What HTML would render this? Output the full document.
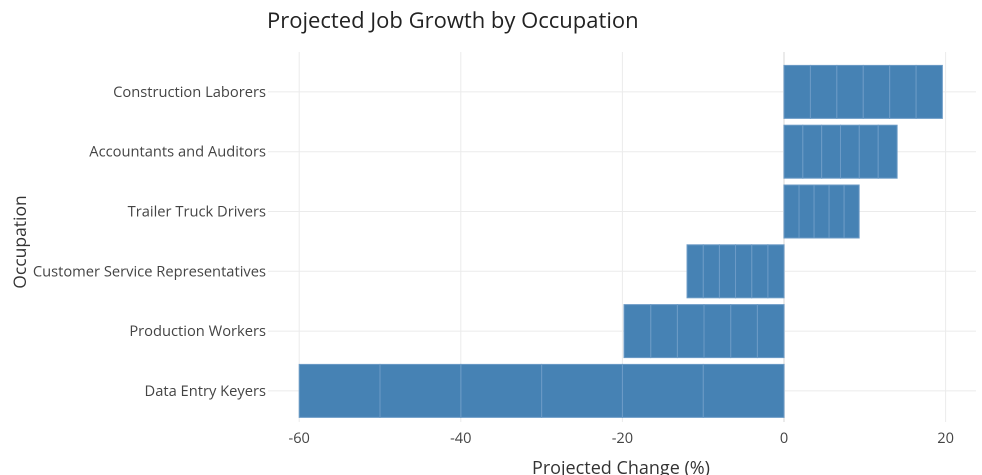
<!DOCTYPE html>
<html><head><meta charset="utf-8"><style>
html,body{margin:0;padding:0;background:#fff;}
svg{display:block;font-family:"Open Sans","Liberation Sans",sans-serif;}
</style></head><body>
<svg id="chart" width="982" height="475">
<text x="267" y="28" font-size="22" fill="#222">Projected Job Growth by Occupation</text>
<g id="grid"></g><g id="bars"></g><g id="labels"></g>
<text x="621" y="474" font-size="18" fill="#333" text-anchor="middle">Projected Change (%)</text>
<text transform="translate(26,242) rotate(-90)" font-size="17.5" fill="#333" text-anchor="middle">Occupation</text>
</svg>
<script>
const categories = ["Construction Laborers","Accountants and Auditors","Trailer Truck Drivers","Customer Service Representatives","Production Workers","Data Entry Keyers"];
const segmentValues = [
  [3.27,3.27,3.27,3.27,3.27,3.25],
  [2.33,2.33,2.33,2.33,2.34,2.34],
  [1.86,1.86,1.86,1.86,1.86],
  [-2,-2,-2,-2,-2,-2],
  [-3.3,-3.3,-3.3,-3.3,-3.3,-3.3],
  [-10,-10,-10,-10,-10,-10]
];
const xTicks = [-60,-40,-20,0,20];
const NS="http://www.w3.org/2000/svg";
const x0=784, pxPer=8.08, rowTop=62, rowH=59.8, barH=53, plotL=298, plotR=976;
function xs(v){return x0+v*pxPer;}
function yc(i){return rowTop+rowH*(i+0.5);}
function mk(tag,attrs,parent){const e=document.createElementNS(NS,tag);for(const k in attrs)e.setAttribute(k,attrs[k]);parent.appendChild(e);return e;}
const grid=document.getElementById('grid'),bars=document.getElementById('bars'),labels=document.getElementById('labels');
xTicks.forEach(t=>{
  const l=mk('line',{x1:xs(t),x2:xs(t),y1:rowTop-10,y2:422,stroke:'#ebebeb','stroke-width':t===0?2:1},grid);
  
  
  const tx=mk('text',{x:xs(t),y:443,'font-size':14.6,fill:'#444','text-anchor':'middle'},labels);
  tx.textContent=t;
  
  
});
categories.forEach((c,i)=>{
  const y=yc(i);
  const gl=mk('line',{x1:plotL-30,x2:plotR,y1:y,y2:y,stroke:'#ebebeb','stroke-width':1},grid);
  
  
  const tx=mk('text',{x:266,y:y+5,'font-size':14.7,fill:'#444','text-anchor':'end'},labels);
  tx.textContent=c;
  
  
  let acc=0;
  segmentValues[i].forEach(v=>{
    const a=xs(acc),b=xs(acc+v);acc+=v;
    const r=mk('rect',{x:Math.min(a,b),y:y-barH/2,width:Math.abs(b-a),height:barH,fill:'#4682b4',stroke:'#6c9bc6','stroke-width':1},bars);
    
    
  });
});
</script>
</body></html>
